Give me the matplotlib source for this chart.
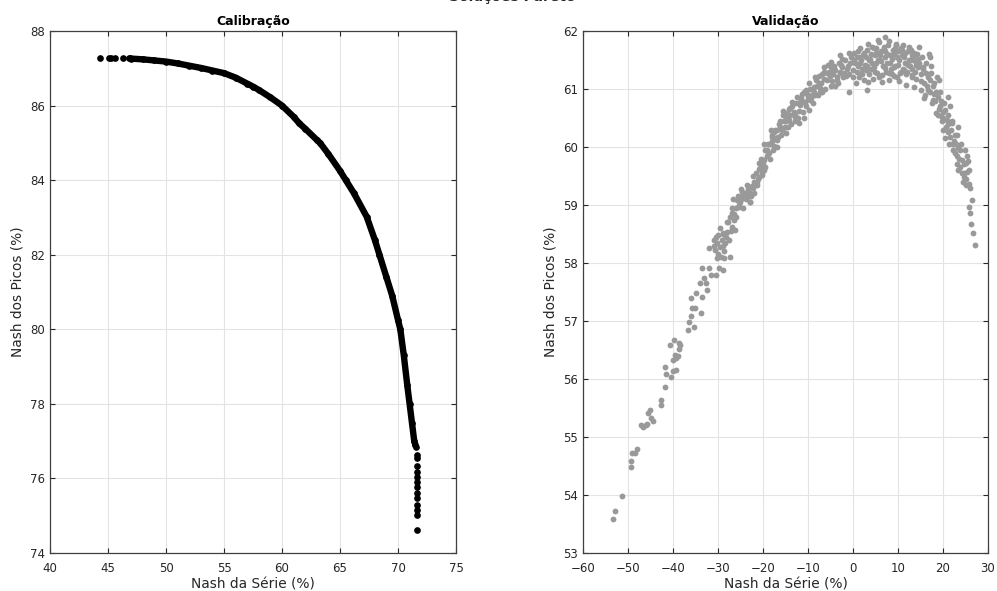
import matplotlib
matplotlib.use("Agg")
import matplotlib.pyplot as plt

plt.rcParams['font.family'] = ['DejaVu Sans']

# --- Calibração: dense front ---
cal_x = [47.0, 48.0, 49.0, 50.0, 51.0, 52.0, 53.0, 54.0, 55.0, 56.0, 57.0, 57.5, 58.0,
         59.0, 60.0, 61.0, 61.5, 62.0, 63.0, 63.3, 64.0, 65.0, 65.5, 66.2, 67.3, 68.0,
         68.4, 69.0, 69.5, 70.0, 70.2, 70.5, 70.8, 71.0, 71.2, 71.4, 71.5]
cal_y = [87.26, 87.24, 87.21, 87.18, 87.13, 87.07, 87.01, 86.94, 86.87, 86.75, 86.59,
         86.51, 86.42, 86.22, 86.00, 85.70, 85.52, 85.38, 85.08, 84.99, 84.70, 84.25,
         84.00, 83.65, 83.02, 82.40, 82.00, 81.40, 80.90, 80.25, 80.00, 79.30, 78.50,
         78.00, 77.50, 77.00, 76.90]

# isolated points at both ends of the front
cal_sparse_x = [44.3, 45.1, 45.3, 45.6, 46.3, 46.8, 46.9,
                71.55, 71.6, 71.6, 71.6, 71.6, 71.6, 71.65, 71.6, 71.6, 71.65, 71.6, 71.6, 71.6, 71.6]
cal_sparse_y = [87.27, 87.27, 87.27, 87.27, 87.27, 87.27, 87.27,
                76.85, 76.63, 76.54, 76.32, 76.18, 76.05, 75.91, 75.78, 75.60, 75.47, 75.29,
                75.15, 75.02, 74.62]

# --- Validação: scattered cloud ---
val_x = [
    -53.26, -52.8, -51.27, -49.4, -49.3, -49.1, -48.5, -48.0, -47.2, -46.6, -46.1, -45.7,
    -45.5, -45.1, -45.0, -44.5, -42.7, -42.7, -41.8, -41.8, -41.5, -40.7, -40.4, -40.1,
    -40.0, -39.8, -39.6, -39.4, -39.3, -38.9, -38.7, -38.6, -38.4, -36.7, -36.5, -36.0,
    -36.0, -35.7, -35.4, -35.2, -35.0, -34.1, -33.7, -33.5, -33.1, -32.6, -32.4, -31.9,
    -31.5, -30.4, -29.8, -28.9, -28.7, -27.4,
    -33.5, -32.0, -30.9, -30.6, -30.2, -29.9, -29.5, -29.2, -28.8, -28.4, -28.0, -27.4,
    -26.9, -26.5, -26.2, -25.8, -25.4, -25.0, -24.3, -23.5, -22.8, -22.4, -22.1, -21.3,
    -20.9, -20.6, -20.2, -19.8, -19.5, -19.1, -18.7, -18.4, -18.0, -17.6, -17.3, -16.9,
    -16.2, -15.4, -15.0, -14.7, -14.3, -13.6, -12.8, -12.4, -12.1, -11.7, -11.0, -10.2,
    -9.8, -9.5, -8.7, -8.4, -7.6, -7.3, -6.5, -5.8, -5.0, -4.7, -3.9, -3.6, -2.8, -2.4,
    -2.1, -1.0, -0.6, 0.1, 0.9, 1.3, 1.6, 2.4, 2.8, 3.1, 3.5, 4.3, 4.6, 5.0, 5.7, 6.1,
    6.5, 6.9, 7.2, 7.6, 8.0, 8.3, 9.1, 9.5, 9.8, 10.2, 10.9, 11.3, 11.7, 12.4, 12.8,
    13.2, 13.6, 13.9, 14.7, 15.1, 15.5, 15.8, 16.2, 16.6, 17.0, 17.4, 17.7, 18.1, 18.5,
    18.9, 19.3, 19.6, 20.0, 20.4, 20.8, 21.2, 21.5, 21.9, 22.3, 22.7, 23.1, 23.4, 23.8,
    24.2, 24.6, 25.0, 25.4, 25.7, 26.1, 25.7, 26.1, 26.5, 26.3, 26.6, 27.1,
    -31.0, -30.5, -30.0, -29.6, -29.0, -28.6, -28.2, -27.8, -27.2, -26.8, -26.4, -25.9,
    -25.6, -25.2, -24.8, -24.0, -23.8, -23.2, -22.6, -22.0, -21.6, -21.0, -20.4, -20.0,
    -19.5, -19.0, -18.5, -18.0, -17.5, -17.0, -16.5, -16.0, -15.6, -15.2, -14.8, -14.2,
    -13.8, -13.2, -12.6, -12.2, -11.5, -11.2, -10.8, -10.5, -10.0,
    -9.6, -9.0, -8.6, -8.2, -7.8, -7.2, -6.8, -6.2, -5.8, -5.4, -5.0, -4.5, -4.2, -3.6,
    -3.2, -2.8, -2.2, -1.8, -1.4, -0.8, -0.4, 0.0,
    0.4, 0.8, 1.0, 1.5, 1.8, 2.0, 2.5, 2.8, 3.2, 3.6, 4.0, 4.2, 4.8, 5.2, 5.5, 5.8, 6.2,
    6.6, 7.0, 7.4, 7.8, 8.2, 8.6, 9.0, 9.4, 9.8, 10.2, 10.6, 11.0, 11.4, 11.8, 12.2,
    12.6, 13.0, 13.4, 13.8, 14.2, 14.6, 15.0,
    15.4, 15.8, 16.2, 16.6, 17.0, 17.4, 17.8, 18.2, 18.6, 19.0, 19.4, 19.8, 20.2, 20.6,
    21.0, 21.4, 21.8, 22.2, 22.6, 23.0, 23.4, 23.8, 24.2, 24.6, 25.0, 25.4, 25.8,
    0.2, 0.6, 1.2, 1.6, 2.2, 2.6, 3.0, 3.4, 3.8, 4.4, 4.6, 5.0, 5.4, 5.6, 6.0, 6.4, 6.8,
    7.2, 7.6, 8.0, 8.4, 8.8, 9.2, 9.6, 10.0, 10.4, 10.8, 11.2, 11.6, 12.0, 12.4, 12.8,
    13.2, 13.6, 14.0, 14.4, -1.0, -1.6, -2.5, -3.0, -4.0, -4.8, -5.6, -6.5, -7.0, -7.5,
    -8.0, -9.2, -9.8, -10.6, -11.0, -11.8, -12.8, -13.5, -14.0, -14.5, -15.5, -16.2,
    -16.8, -17.2, -17.8, -18.2, -19.2, -19.8, -20.2, -20.8, -21.4, -22.3, -23.0, -23.6,
    -24.5, -25.0, -26.0, -26.6, -27.5, -28.0, -29.0, -29.3, -30.2, 15.2, 16.0, 16.8,
    17.6, 18.4, 19.0, 19.6, 20.0, 20.5, 21.2, 21.6, 22.0, 22.8, 23.2, 23.6, 24.0, 24.4,
    24.8, 25.2, 25.6,
    -27.0, -25.3, -24.6, -23.4, -22.2, -21.2, -19.7, -18.9, -17.9, -16.7, -15.8, -14.9,
    -13.9, -13.0, -12.0, -11.4, -10.4, -9.4, -8.5, -7.4, -6.4, -5.2, -4.4, -3.4, -2.6,
    -1.2, 0.3, 1.4, 2.1, 3.3, 4.1, 4.9, 5.3, 6.3, 7.1, 7.9, 8.7, 9.3, 10.1, 10.7, 11.5,
    12.3, 13.1, 13.7, 14.5, 15.6, 16.4, 17.2, 18.0, 18.8, 19.9, 21.0, 22.4, 23.3, 24.7,
]
val_y = [
    53.58, 53.73, 53.99, 54.48, 54.58, 54.73, 54.73, 54.80, 55.20, 55.18, 55.21, 55.23,
    55.41, 55.47, 55.32, 55.27, 55.64, 55.55, 55.87, 56.21, 56.09, 56.59, 56.04, 56.13,
    56.33, 56.67, 56.41, 56.16, 56.36, 56.39, 56.62, 56.51, 56.59, 56.85, 56.99, 57.08,
    57.39, 57.22, 56.89, 57.22, 57.48, 57.65, 57.13, 57.42, 57.74, 57.65, 57.54, 57.91,
    57.79, 57.79, 57.91, 57.88, 58.08, 58.11,
    57.91, 58.25, 58.39, 58.22, 58.08, 58.48, 58.28, 58.39, 58.51, 58.34, 58.54, 58.80,
    58.86, 58.74, 58.57, 59.09, 58.97, 59.14, 59.17, 59.14, 59.05, 59.32, 59.20, 59.34,
    59.49, 59.63, 59.52, 59.78, 59.66, 59.95, 59.89, 60.06, 60.21, 60.01, 60.29, 60.12,
    60.35, 60.44, 60.24, 60.58, 60.47, 60.70, 60.55, 60.87, 60.41, 60.72, 60.78, 60.92,
    60.64, 60.81, 61.04, 60.90, 61.10, 60.95, 61.18, 61.27, 61.47, 61.13, 61.33, 61.21,
    61.59, 61.38, 61.27, 60.95, 61.44, 61.33, 61.56, 61.21, 61.44, 61.62, 61.33, 60.99,
    61.50, 61.73, 61.38, 61.62, 61.81, 61.50, 61.24, 61.67, 61.90, 61.44, 61.15, 61.59,
    61.38, 61.76, 61.56, 61.13, 61.67, 61.33, 61.07, 61.50, 61.67, 61.24, 61.04, 61.41,
    61.73, 61.13, 61.38, 60.84, 61.27, 60.99, 61.56, 61.27, 60.81, 61.10, 60.58, 60.87,
    60.70, 60.53, 60.29, 60.64, 60.47, 60.87, 60.18, 60.41, 60.06, 59.89, 60.21, 59.98,
    59.66, 59.78, 59.49, 59.72, 59.57, 59.37, 59.29, 58.97, 58.86, 59.09, 58.68, 58.51,
    58.31,
    58.30, 58.45, 58.15, 58.60, 58.30, 58.20, 58.45, 58.70, 58.55, 58.95, 58.85, 58.95,
    59.15, 59.05, 59.10, 59.20, 59.10, 59.22, 59.15, 59.40, 59.55, 59.62, 59.80, 59.70,
    59.95, 60.05, 59.80, 60.10, 60.25, 60.00, 60.40, 60.20, 60.55, 60.35, 60.50, 60.65,
    60.40, 60.60, 60.75, 60.50, 60.85, 60.60, 60.95, 60.70, 60.85,
    61.00, 60.75, 60.95, 61.15, 60.90, 61.10, 61.25, 61.00, 61.15, 61.30, 61.05, 61.25,
    61.40, 61.15, 61.45, 61.30, 61.20, 61.50, 61.35, 61.25, 61.55, 61.20,
    61.45, 61.30, 61.65, 61.25, 61.50, 61.35, 61.15, 61.55, 61.40, 61.25, 61.60, 61.45,
    61.30, 61.70, 61.50, 61.20, 61.65, 61.40, 61.55, 61.30, 61.75, 61.45, 61.25, 61.60,
    61.40, 61.20, 61.50, 61.70, 61.35, 61.55, 61.25, 61.65, 61.40, 61.20, 61.55, 61.30,
    61.60, 61.45, 61.25,
    61.55, 61.10, 61.45, 61.20, 60.95, 61.40, 61.05, 60.80, 61.20, 60.65, 60.95, 60.45,
    60.75, 60.35, 60.55, 60.05, 60.30, 59.95, 60.20, 59.85, 60.35, 59.95, 59.55, 59.70,
    59.45, 59.85, 59.60,
    61.62, 61.10, 61.40, 61.70, 61.58, 61.42, 61.68, 61.12, 61.52, 61.18, 61.70, 61.45,
    61.28, 61.85, 61.58, 61.12, 61.72, 61.36, 61.60, 61.82, 61.35, 61.68, 61.22, 61.78,
    61.42, 61.28, 61.58, 61.76, 61.45, 61.30, 61.72, 61.50, 61.35, 61.62, 61.18, 61.52,
    61.62, 61.22, 61.52, 61.28, 61.05, 61.38, 61.42, 61.30, 60.95, 61.22, 61.05, 60.90,
    61.10, 60.78, 60.50, 60.78, 60.45, 60.78, 60.55, 60.35, 60.62, 60.45, 60.30, 60.15,
    59.95, 60.30, 59.85, 60.05, 59.55, 59.72, 59.40, 59.50, 59.05, 59.35, 58.95, 59.28,
    58.80, 59.10, 58.40, 58.70, 58.50, 58.10, 58.35, 60.98, 60.90, 61.60, 60.75, 60.95,
    61.15, 60.80, 60.60, 60.15, 60.25, 60.70, 60.45, 60.05, 59.70, 59.80, 60.05, 59.40,
    59.95, 59.35, 59.75,
    58.62, 59.00, 59.22, 59.28, 59.30, 59.45, 59.60, 59.90, 60.18, 60.18, 60.30, 60.45,
    60.68, 60.52, 60.62, 60.92, 60.98, 60.85, 61.20, 61.02, 61.38, 61.22, 61.35, 61.10,
    61.42, 61.40, 61.50, 61.55, 61.25, 61.78, 61.35, 61.58, 61.62, 61.48, 61.65, 61.28,
    61.52, 61.70, 61.65, 61.30, 61.62, 61.42, 61.58, 61.48, 61.38, 61.35, 61.05, 61.15,
    60.92, 60.55, 60.50, 60.40, 60.10, 59.60, 59.55,
]

cal_xticks = [40, 45, 50, 55, 60, 65, 70, 75]
cal_yticks = [74, 76, 78, 80, 82, 84, 86, 88]
val_xticks = [-60, -50, -40, -30, -20, -10, 0, 10, 20, 30]
val_yticks = [53, 54, 55, 56, 57, 58, 59, 60, 61, 62]

fig = plt.figure(figsize=(9.97, 5.91), dpi=100)
ax1 = fig.add_axes([50 / 997, 38 / 591, 406 / 997, 522 / 591])
ax2 = fig.add_axes([583 / 997, 38 / 591, 405 / 997, 522 / 591])

ax1.plot(cal_x, cal_y, '-', color='black', lw=4.6, solid_capstyle='round', zorder=3)
ax1.plot(cal_x, cal_y, 'o', color='black', ms=3.8, zorder=3)
ax1.plot(cal_sparse_x, cal_sparse_y, 'o', color='black', ms=3.8, zorder=3)

ax2.plot(val_x, val_y, 'o', color='#999999', ms=4.2, mec='none', zorder=3)

for ax, xt, yt, title in [(ax1, cal_xticks, cal_yticks, 'Calibração'),
                          (ax2, val_xticks, val_yticks, 'Validação')]:
    ax.set_xlim(xt[0], xt[-1])
    ax.set_ylim(yt[0], yt[-1])
    ax.set_xticks(xt)
    ax.set_yticks(yt)
    ax.grid(True, color='#e3e3e3', lw=0.8, zorder=0)
    ax.set_axisbelow(True)
    ax.tick_params(direction='in', top=True, right=True, length=3.5, width=0.8,
                   labelsize=8.5, colors='#262626')
    ax.tick_params(axis='x', pad=6.5)
    ax.tick_params(axis='y', pad=3.5)
    for sp in ax.spines.values():
        sp.set_color('#404040')
        sp.set_linewidth(0.9)
    ax.set_title(title, fontsize=9, fontweight='bold', color='black', pad=4)
    ax.set_xlabel('Nash da Série (%)', fontsize=9.9, color='#262626', labelpad=1.5)
    ax.set_ylabel('Nash dos Picos (%)', fontsize=9.9, color='#262626', labelpad=4)

# figure title: in the reference it sits almost entirely above the top edge,
# only the very bottom of the glyphs is visible
fig.text(512 / 997, 1 - 0.5 / 591, 'Soluções Pareto', ha='center', va='baseline',
         fontsize=10, fontweight='bold', color='#262626')

fig.savefig('out.png', dpi=100)
